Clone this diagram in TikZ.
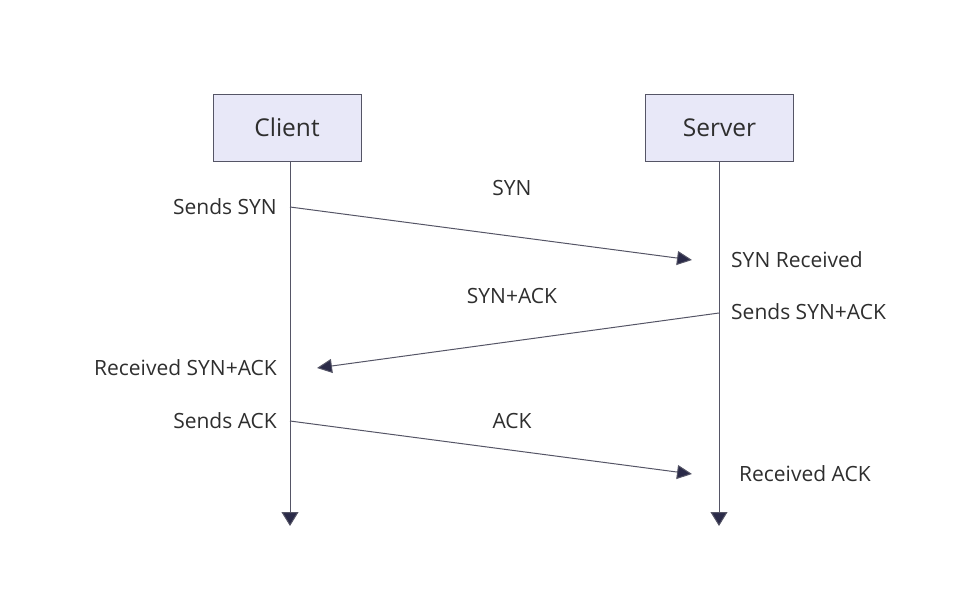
\documentclass[tikz,border=0pt]{standalone}
\usepackage{fontspec}
\setmainfont{Open Sans}
\usetikzlibrary{arrows.meta}
\definecolor{boxfill}{HTML}{E8E8F8}
\definecolor{boxline}{HTML}{555566}
\definecolor{txt}{HTML}{2E2E2E}
\definecolor{head}{HTML}{2A2A48}
\tikzset{
  actor/.style={draw=boxline, line width=1pt, fill=boxfill, minimum width=148pt, minimum height=67pt, inner sep=0pt, text=txt, font=\fontsize{24.5}{28}\selectfont},
  lbl/.style={text=txt, font=\fontsize{21}{25}\selectfont, inner sep=0pt},
  life/.style={draw=boxline, line width=1pt, -{Triangle[width=17pt,length=14pt,fill=head]}},
  msg/.style={draw=boxline, line width=1pt, -{Triangle[width=14pt,length=15pt,fill=head]}}
}
\begin{document}
\begin{tikzpicture}[x=1pt,y=-1pt]
\useasboundingbox (0,0) rectangle (979,602);
\node[actor] (client) at (287,127.5) {Client};
\node[actor] (server) at (719.5,127.5) {Server};
\coordinate (cend) at (290,526);
\coordinate (send) at (719,526);
\draw[life] (client.south -| cend) -- (cend);
\draw[life] (server.south -| send) -- (send);
% message endpoints
\coordinate (a1) at (290,207);
\coordinate (b1) at (692,260);
\coordinate (a2) at (719,313);
\coordinate (b2) at (317,368);
\coordinate (a3) at (290,421);
\coordinate (b3) at (692,474);
\draw[msg] (a1) -- (b1);
\draw[msg] (a2) -- (b2);
\draw[msg] (a3) -- (b3);
\node[lbl] (m1) at (512,188) {SYN};
\node[lbl] (m2) at (512,296) {SYN+ACK};
\node[lbl] (m3) at (512,421) {ACK};
\node[lbl, anchor=east] (l1) at (277,207) {Sends SYN};
\node[lbl, anchor=east] (l2) at (277,368) {Received SYN+ACK};
\node[lbl, anchor=east] (l3) at (277,421) {Sends ACK};
\node[lbl, anchor=west] (r1) at (731,260) {SYN Received};
\node[lbl, anchor=west] (r2) at (731,312) {Sends SYN+ACK};
\node[lbl, anchor=west] (r3) at (739,474) {Received ACK};
\end{tikzpicture}
\end{document}
